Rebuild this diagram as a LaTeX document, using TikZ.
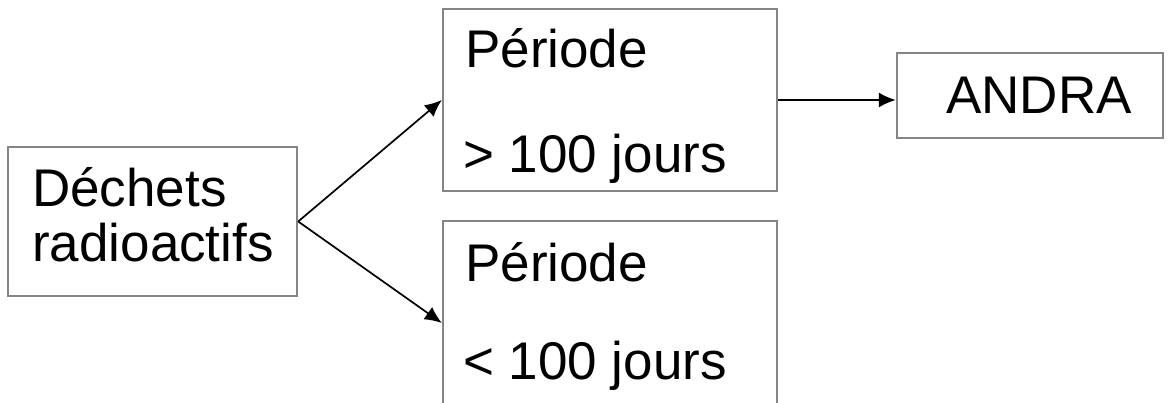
\documentclass[tikz,border=0pt]{standalone}
\usepackage{fontspec}
\setmainfont{Liberation Sans}
\usetikzlibrary{arrows.meta}
\begin{document}
\begin{tikzpicture}[x=1pt,y=-1pt,
  box/.style={draw=black!48, line width=2.4pt, rectangle, inner sep=0pt},
  txt/.style={anchor=base west, inner sep=0pt, font=\fontsize{53}{60}\selectfont},
  link/.style={line width=1.7pt, -{Latex[length=17pt,width=15pt]}}]
  \useasboundingbox (0,0) rectangle (1171,403);
  \clip (0,0) rectangle (1171,403);
  % boxes
  \node[box, minimum width=289pt, minimum height=149pt] (waste) at (152.5,221.5) {};
  \node[box, minimum width=334pt, minimum height=182pt] (up) at (610,100) {};
  \node[box, minimum width=334pt, minimum height=204pt] (low) at (610,323) {};
  \node[box, minimum width=266pt, minimum height=85pt] (andra) at (1030,95.5) {};
  % labels
  \node[txt] (w1) at (32,207) {Déchets};
  \node[txt] (w2) at (32,262) {radioactifs};
  \node[txt] (u1) at (465,68) {Période};
  \node[txt] (u2) at (463,173) {> 100 jours};
  \node[txt] (l1) at (465,282) {Période};
  \node[txt] (l2) at (463,380) {< 100 jours};
  \node[txt] (a1) at (946,114) {ANDRA};
  % connectors
  \draw[link] (waste.east) -- (up.west);
  \draw[link] (waste.east) -- (low.west);
  \draw[link] (up.east) -- (up.east -| andra.west);
\end{tikzpicture}
\end{document}
